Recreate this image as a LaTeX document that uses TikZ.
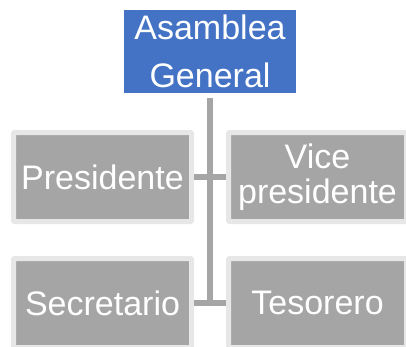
\documentclass[tikz,border=0pt]{standalone}
\usepackage{fontspec}
\setmainfont{Liberation Sans}
\definecolor{asblue}{HTML}{4472C4}
\definecolor{cargo}{HTML}{A5A5A5}
\definecolor{marco}{HTML}{E7E7E7}
\begin{document}
\begin{tikzpicture}[x=1pt, y=1pt,
        jefe/.style={fill=asblue, text=white, minimum width=172pt, minimum height=83pt,
            inner sep=0pt, align=center, font=\fontsize{34}{48}\selectfont},
        cargobox/.style={fill=cargo, draw=marco, line width=5pt, rounded corners=1pt, text=white,
            minimum width=178pt, minimum height=89pt, inner sep=0pt, align=center,
            font=\fontsize{34}{35}\selectfont},
        linea/.style={draw=cargo, line width=6pt}]
        \useasboundingbox (0, 0) rectangle (406, 346);
        \node[jefe] (asamblea) at (210, 294.5) {Asamblea\\General};
        \node[cargobox] (pres) at (102.5, 169) {Presidente};
        \node[cargobox] (vice) at (317.5, 169) {Vice\\presidente};
        \node[cargobox] (secr) at (102.5, 43) {Secretario};
        \node[cargobox] (teso) at (317.5, 43) {Tesorero};
        \coordinate (arriba) at ([yshift=-5pt]asamblea.south);
        \coordinate (abajo) at (arriba |- secr.east);
        \draw[linea, line cap=rect] ([yshift=-3pt]arriba) -- (abajo);
        \draw[linea] (pres) -- (vice);
        \draw[linea] (secr) -- (teso);
    \end{tikzpicture}
\end{document}
